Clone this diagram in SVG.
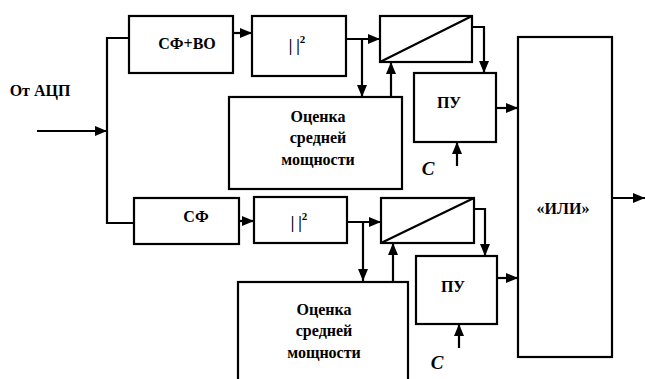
<svg xmlns="http://www.w3.org/2000/svg" width="645" height="379" viewBox="0 0 645 379">
<defs>
<marker id="ah" markerUnits="userSpaceOnUse" markerWidth="12" markerHeight="10" refX="12" refY="5" orient="auto"><path d="M0,0 L12,5 L0,10 z" fill="#000"/></marker>
<style>
.b{fill:#fff;stroke:#000;stroke-width:2.2}
.c{fill:none;stroke:#000;stroke-width:2.2}
.a{marker-end:url(#ah)}
</style>
</defs>
<rect width="645" height="379" fill="#fff"/>
<g id="connectors">
<path class="c a" d="M37,131 H107"/>
<path class="c" d="M129,38 H107 V223 H134"/>
<path class="c a" d="M233,33 H252"/>
<path class="c a" d="M346,39 H380"/>
<path class="c a" d="M362,39 V97"/>
<path class="c a" d="M391,97 V62"/>
<path class="c a" d="M472,27 H484 V73"/>
<path class="c a" d="M496,108 H518"/>
<path class="c a" d="M457,166 V142"/>
<path class="c a" d="M612,198 H645"/>
<path class="c a" d="M239,221 H254"/>
<path class="c a" d="M347,222 H381"/>
<path class="c a" d="M363,222 V281"/>
<path class="c a" d="M393,281 V243"/>
<path class="c a" d="M474,209 H485 V256"/>
<path class="c a" d="M497,278 H518"/>
<path class="c a" d="M459,348 V324"/>
</g>
<text font-family="Liberation Serif" font-weight="bold" font-size="16" text-anchor="middle" x="40" y="96">От АЦП</text>
<g id="sfvo"><rect class="b" x="129" y="16" width="104" height="57"/><text font-family="Liberation Serif" font-weight="bold" font-size="16" text-anchor="middle" x="187" y="49">СФ+ВО</text></g>
<g id="abs1"><rect class="b" x="252" y="16" width="94" height="60"/><text font-family="Liberation Serif" font-weight="bold" font-size="16" text-anchor="middle" x="297" y="51">| |<tspan dy="-8" font-size="11">2</tspan></text></g>
<g id="ramp1"><rect class="b" x="380" y="16" width="92" height="46"/><path class="c" d="M380,62 L472,16"/></g>
<g id="est1"><rect class="b" x="229" y="97" width="173" height="92"/><text font-family="Liberation Serif" font-weight="bold" font-size="16" text-anchor="middle" x="318" y="122">Оценка</text><text font-family="Liberation Serif" font-weight="bold" font-size="16" text-anchor="middle" x="318" y="143">средней</text><text font-family="Liberation Serif" font-weight="bold" font-size="16" text-anchor="middle" x="318" y="165">мощности</text></g>
<g id="pu1"><rect class="b" x="414" y="73" width="82" height="69"/><text font-family="Liberation Serif" font-weight="bold" font-size="16" text-anchor="middle" x="449" y="108">ПУ</text></g>
<text font-family="Liberation Serif" font-weight="bold" font-style="italic" font-size="19" text-anchor="middle" x="428" y="175">C</text>
<g id="or"><rect class="b" x="518" y="37" width="94" height="320"/><text font-family="Liberation Serif" font-weight="bold" font-size="16" text-anchor="middle" x="563" y="214">«ИЛИ»</text></g>
<g id="sf"><rect class="b" x="134" y="198" width="105" height="46"/><text font-family="Liberation Serif" font-weight="bold" font-size="16" text-anchor="middle" x="196" y="222">СФ</text></g>
<g id="abs2"><rect class="b" x="254" y="197" width="93" height="46"/><text font-family="Liberation Serif" font-weight="bold" font-size="16" text-anchor="middle" x="299" y="228">| |<tspan dy="-8" font-size="11">2</tspan></text></g>
<g id="ramp2"><rect class="b" x="381" y="198" width="93" height="45"/><path class="c" d="M381,243 L474,198"/></g>
<g id="est2"><rect class="b" x="238" y="282" width="170" height="110"/><text font-family="Liberation Serif" font-weight="bold" font-size="16" text-anchor="middle" x="324" y="315">Оценка</text><text font-family="Liberation Serif" font-weight="bold" font-size="16" text-anchor="middle" x="324" y="336">средней</text><text font-family="Liberation Serif" font-weight="bold" font-size="16" text-anchor="middle" x="324" y="358">мощности</text></g>
<g id="pu2"><rect class="b" x="416" y="256" width="81" height="68"/><text font-family="Liberation Serif" font-weight="bold" font-size="16" text-anchor="middle" x="453" y="292">ПУ</text></g>
<text font-family="Liberation Serif" font-weight="bold" font-style="italic" font-size="19" text-anchor="middle" x="437" y="369">C</text>
</svg>
